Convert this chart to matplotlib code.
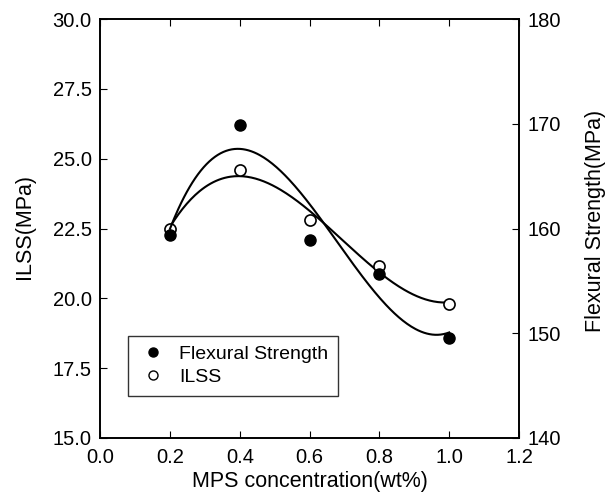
import numpy as np
import matplotlib
matplotlib.use("Agg")
import matplotlib.pyplot as plt
from matplotlib.lines import Line2D
from matplotlib.ticker import FormatStrFormatter

plt.rcParams["font.family"] = ["Liberation Sans", "DejaVu Sans"]

mps = [0.2, 0.4, 0.6, 0.8, 1.0]
ilss = [22.5, 24.6, 22.8, 21.15, 19.8]
flexural = [159.4, 169.9, 158.9, 155.7, 149.5]

fig = plt.figure(figsize=(6.07, 4.92), dpi=100)
ax = fig.add_axes([0.165, 0.110, 0.690, 0.851])
ax2 = ax.twinx()

# smooth cubic fits through each series
xs = np.linspace(0.2, 1.0, 200)
fit_ilss = np.polyval(np.polyfit(mps, ilss, 3), xs)
fit_flex = np.polyval(np.polyfit(mps, flexural, 3), xs)

ax.plot(xs, fit_ilss, color="black", lw=1.5)
ax2.plot(xs, fit_flex, color="black", lw=1.5)
ax.plot(mps, ilss, "o", mfc="white", mec="black", mew=1.2, ms=8, zorder=5)
ax2.plot(mps, flexural, "o", mfc="black", mec="black", ms=8, zorder=5)

ax.set_xlim(0, 1.2)
ax.set_ylim(15, 30)
ax2.set_ylim(140, 180)
ax.set_xticks([0.0, 0.2, 0.4, 0.6, 0.8, 1.0, 1.2])
ax.set_yticks([15.0, 17.5, 20.0, 22.5, 25.0, 27.5, 30.0])
ax2.set_yticks([140, 150, 160, 170, 180])
ax.xaxis.set_major_formatter(FormatStrFormatter("%.1f"))
ax.yaxis.set_major_formatter(FormatStrFormatter("%.1f"))

ax.tick_params(axis="x", direction="in", length=5, labelsize=14.5, top=True, pad=7)
ax.tick_params(axis="y", direction="in", length=5, labelsize=14.5, pad=6)
ax2.tick_params(axis="y", direction="in", length=5, labelsize=14.5, pad=6)
for a in (ax, ax2):
    for s in a.spines.values():
        s.set_linewidth(1.2)

ax.set_xlabel("MPS concentration(wt%)", fontsize=15.5)
ax.set_ylabel("ILSS(MPa)", fontsize=15.5)
ax2.set_ylabel("Flexural Strength(MPa)", fontsize=15.5)
ax.xaxis.set_label_coords(0.501, -0.079)
ax.yaxis.set_label_coords(-0.155, 0.506)
ax2.yaxis.set_label_coords(1.158, 0.518)

handles = [
    Line2D([], [], ls="none", marker="o", mfc="black", mec="black", ms=6.5),
    Line2D([], [], ls="none", marker="o", mfc="white", mec="black", ms=6.5),
]
leg = ax.legend(handles, ["Flexural Strength", "ILSS"], loc="lower left",
                bbox_to_anchor=(0.067, 0.100), borderaxespad=0, fontsize=14,
                frameon=True, fancybox=False, edgecolor="black",
                handlelength=1.5, handletextpad=0.6, borderpad=0.5,
                labelspacing=0.3)
leg.get_frame().set_linewidth(1.0)

fig.savefig("out.png", dpi=100)
